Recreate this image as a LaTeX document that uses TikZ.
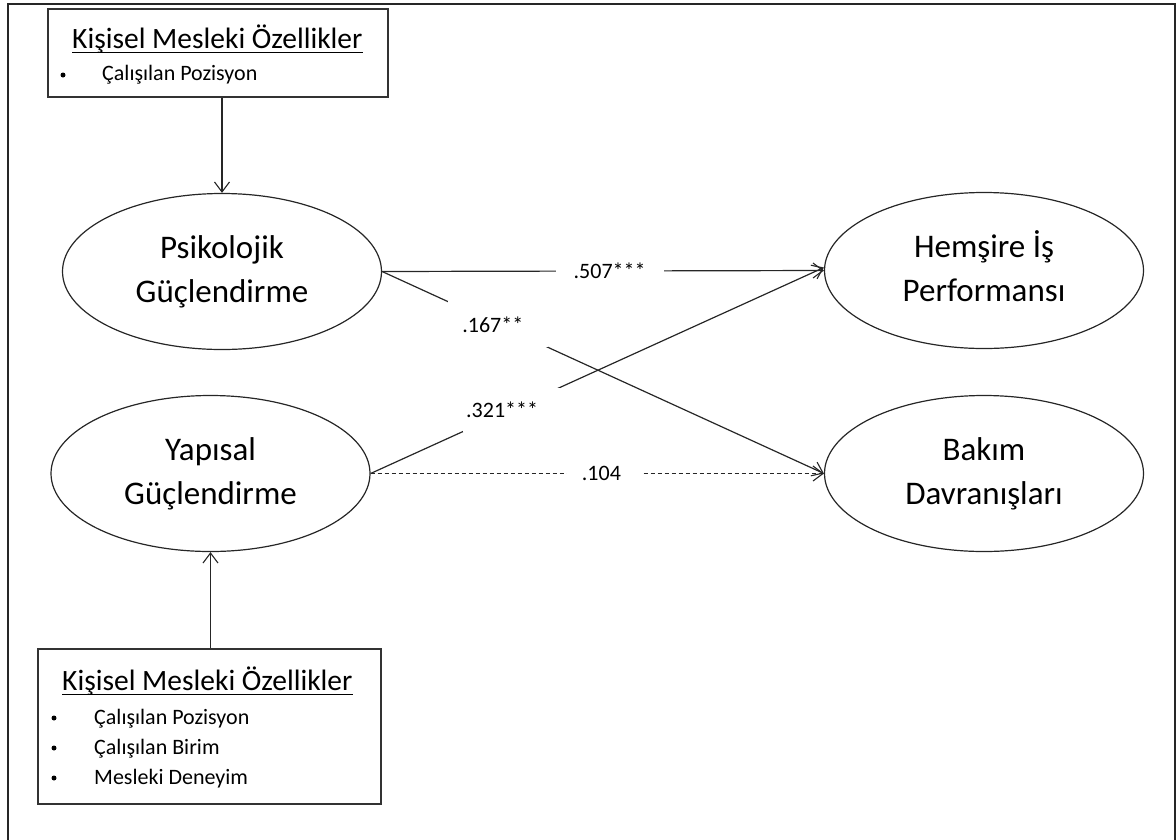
\documentclass[tikz,border=0pt]{standalone}
\usepackage{fontspec}
\setmainfont{Carlito}
\usetikzlibrary{arrows.meta,shapes.geometric}

\newcommand{\twolines}[2]{\raisebox{-3pt}{\begin{tabular}{@{}c@{}}#1\\#2\end{tabular}}}

\tikzset{
  frame/.style={draw=black!85, line width=2pt},
  infobox/.style={draw=black!80, line width=1.4pt, rectangle, inner sep=0pt},
  construct/.style={draw=black!85, line width=1.2pt, ellipse, inner sep=0pt,
    minimum width=319pt, minimum height=156pt,
    font=\fontsize{33}{44}\selectfont},
  boxtitle/.style={inner sep=0pt, anchor=base west, font=\fontsize{29.5}{34}\selectfont},
  itemtext/.style={inner sep=0pt, anchor=base west, font=\fontsize{22}{26}\selectfont},
  bulletmark/.style={circle, fill=black, inner sep=0pt, minimum size=5pt},
  path/.style={draw=black!85, line width=1.2pt, -{Straight Barb[length=10pt,width=15pt,line width=1.1pt]}},
  weak/.style={path, dash pattern=on 4pt off 3pt},
  coef/.style={fill=white, inner sep=0pt, font=\fontsize{22}{26}\selectfont},
  uline/.style={draw=black, line width=1.8pt}
}

\begin{document}
\begin{tikzpicture}[x=1pt, y=-1pt]
  \useasboundingbox (0,0) rectangle (1176,839);
  \clip (0,0) rectangle (1176,839);

  % outer frame (its lower edge lies below the page)
  \draw[frame] (8,3.5) rectangle (1175,860);

  % upper characteristics box
  \node[infobox, minimum width=340pt, minimum height=88pt] (topbox) at (218,53) {};
  \node[boxtitle] (toptitle) at (72,48) {Kişisel Mesleki Özellikler};
  \draw[uline] ([yshift=-4.5pt]toptitle.base west) -- ([yshift=-4.5pt]toptitle.base east);
  \node[bulletmark] (tb1) at (63,75) {};
  \node[itemtext] (ti1) at (102,80) {Çalışılan Pozisyon};

  % lower characteristics box
  \node[infobox, minimum width=343pt, minimum height=155pt] (botbox) at (209.5,726.5) {};
  \node[boxtitle] (bottitle) at (62,690) {Kişisel Mesleki Özellikler};
  \draw[uline] ([yshift=-4.5pt]bottitle.base west) -- ([yshift=-4.5pt]bottitle.base east);
  \node[bulletmark] (bb1) at (54,718) {};
  \node[itemtext]   (bi1) at (94,724) {Çalışılan Pozisyon};
  \node[bulletmark] (bb2) at (54,748) {};
  \node[itemtext]   (bi2) at (94,754) {Çalışılan Birim};
  \node[bulletmark] (bb3) at (54,778) {};
  \node[itemtext]   (bi3) at (94,784) {Mesleki Deneyim};

  % constructs
  \node[construct] (psy)  at (222,271.5)  {\twolines{Psikolojik}{Güçlendirme}};
  \node[construct] (str)  at (210.5,473.5) {\twolines{Yapısal}{Güçlendirme}};
  \node[construct] (perf) at (984,270.5)  {\twolines{Hemşire İş}{Performansı}};
  \node[construct] (care) at (984,473.5)  {\twolines{Bakım}{Davranışları}};

  % moderating characteristics
  \draw[path] (psy.north |- topbox.south) -- (psy.north);
  \draw[path] (str.south |- botbox.north) -- (str.south);

  % structural paths with coefficients
  \draw[path] (psy.east) -- (perf.west)
    node[coef, pos=0.515, minimum width=108pt, minimum height=20pt] (c507) {.507***};
  \draw[path] (psy.east) -- (care.west)
    node[coef, pos=0.262, minimum width=100pt, minimum height=46pt] (c167) {\hspace*{-10pt}.167**};
  \draw[path] (str.east) -- ([yshift=3pt]perf.west)
    node[coef, pos=0.31, minimum width=97pt, minimum height=44pt] (c321) {\hspace*{-18pt}.321***};
  \draw[weak] (str.east) -- (care.west)
    node[coef, pos=0.518, minimum width=76pt, minimum height=20pt] (c104) {\hspace*{-8pt}.104};
\end{tikzpicture}
\end{document}
